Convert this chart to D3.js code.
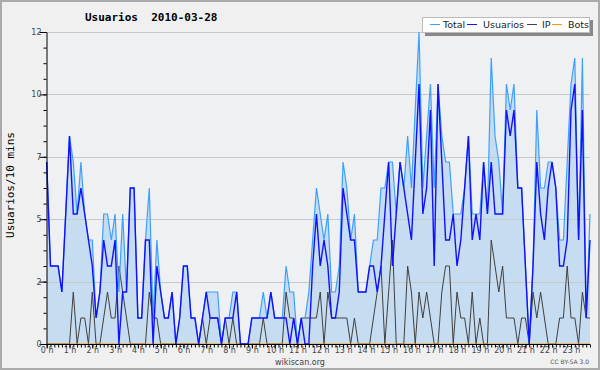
<!DOCTYPE html>
<html lang="es">
<head>
<meta charset="UTF-8">
<script src="https://cdnjs.cloudflare.com/ajax/libs/d3/7.8.5/d3.min.js"></script>
<title>Usuarios 2010-03-28</title>
<style>
    body { margin: 0; background: #f0f0f0; }
    svg { display: block; }
    .tick text { font-family: "DejaVu Sans", sans-serif; font-size: 8px; fill: #444; }
</style>
</head>
<body>
<svg width="600" height="370"></svg>
<script>
    // valores cada 10 minutos (144 puntos = 24 h)
    var total = [7, 3, 3, 3, 2, 5, 8, 7, 5, 7, 5, 4, 4, 1, 2, 5, 5, 4, 5, 2, 5, 2, 6, 6,
        1, 1, 4, 6, 1, 4, 2, 1, 1, 2, 0, 1, 3, 3, 1, 1, 0, 1, 2, 2, 2, 2, 0, 1,
        1, 2, 2, 0, 0, 0, 1, 1, 1, 2, 1, 2, 1, 1, 1, 3, 2, 2, 0, 1, 1, 2, 4, 6,
        5, 4, 5, 2, 2, 3, 7, 6, 4, 5, 2, 2, 2, 3, 4, 4, 6, 6, 7, 7, 5, 7, 6, 8,
        6, 9, 12, 6, 8, 10, 6, 10, 8, 7, 7, 5, 5, 5, 6, 8, 5, 5, 5, 7, 5, 11, 8, 7,
        5, 10, 9, 10, 6, 6, 3, 0, 3, 9, 6, 6, 7, 7, 6, 4, 4, 7, 10, 11, 4, 11, 1, 5];
    var usuarios = [7, 3, 3, 3, 2, 5, 8, 5, 5, 6, 5, 4, 3, 1, 2, 4, 3, 3, 4, 0, 2, 2, 6, 6,
        1, 1, 4, 4, 0, 3, 2, 1, 1, 2, 0, 1, 3, 3, 1, 1, 0, 1, 2, 1, 1, 1, 0, 1,
        1, 1, 2, 0, 0, 0, 1, 1, 1, 1, 1, 2, 1, 1, 1, 1, 0, 1, 0, 1, 0, 0, 3, 5,
        3, 4, 3, 1, 1, 2, 6, 5, 4, 4, 2, 2, 2, 3, 3, 2, 3, 5, 7, 3, 5, 7, 6, 5,
        4, 7, 10, 5, 6, 9, 3, 10, 7, 4, 4, 5, 3, 4, 6, 8, 4, 5, 4, 7, 5, 7, 5, 5,
        5, 9, 8, 9, 6, 6, 3, 0, 3, 7, 5, 4, 6, 7, 6, 3, 3, 4, 9, 10, 4, 9, 1, 4];
    var ip = [0, 0, 0, 0, 0, 0, 0, 2, 0, 1, 1, 0, 2, 0, 0, 1, 2, 1, 1, 3, 2, 1, 0, 0,
        0, 0, 0, 2, 1, 1, 0, 0, 0, 0, 0, 0, 0, 0, 0, 0, 0, 1, 0, 1, 1, 1, 0, 1,
        0, 1, 0, 0, 0, 0, 0, 0, 0, 1, 0, 0, 0, 0, 0, 2, 1, 1, 0, 1, 1, 1, 1, 1,
        2, 0, 2, 1, 1, 1, 1, 1, 0, 1, 0, 0, 0, 0, 1, 2, 3, 0, 2, 4, 0, 0, 0, 3,
        2, 0, 2, 1, 2, 1, 0, 0, 2, 3, 3, 0, 2, 1, 1, 0, 2, 0, 1, 0, 0, 4, 3, 2,
        3, 1, 1, 1, 0, 1, 1, 0, 2, 1, 2, 1, 0, 0, 0, 1, 1, 3, 1, 1, 0, 2, 1, 1];
    var bots = total.map(function () { return 0; });

    var hourLabels = ["0 h", "1 h", "2 h", "3 h", "4 h", "5 h", "6 h", "7 h", "8 h", "9 h", "10 h", "11 h",
        "12 h", "13 h", "14 h", "15 h", "16 h", "17 h", "18 h", "19 h", "20 h", "21 h", "22 h", "23 h"];
    var yTicks = [0, 2.4, 4.8, 7.2, 9.6, 12];
    var yTickLabels = ["0", "2", "5", "7", "10", "12"];

    var legendNames = ["Total", "Usuarios", "IP", "Bots"];
    var legendColors = ["#3da0ff", "#1010ff", "#404040", "#ff9900"];

    var svg = d3.select("svg");

    svg.append("rect").attr("x", 1).attr("y", 1).attr("width", 598).attr("height", 368)
        .attr("fill", "#f0f0f0").attr("stroke", "#aaaaaa").attr("stroke-width", 2);

    var x = d3.scaleLinear().domain([0, total.length - 1]).range([46.7, 590]);
    var y = d3.scaleLinear().domain([0, 12]).range([344, 32]);

    svg.append("rect").attr("x", 46).attr("y", 32).attr("width", 544).attr("height", 312)
        .attr("fill", "#eef0f2");

    // area Total
    svg.append("path")
        .datum(total)
        .attr("fill", "#c6dcf0")
        .attr("d", d3.area().x((d, i) => x(i)).y0(y(0)).y1(d => y(d)));

    // grid
    svg.selectAll("line.grid")
        .data(yTicks.slice(1))
        .enter()
        .append("line")
        .attr("class", "grid")
        .attr("x1", 46).attr("x2", 590)
        .attr("y1", d => Math.round(y(d)) + 0.5).attr("y2", d => Math.round(y(d)) + 0.5)
        .attr("stroke", "#c8c8c8");

    var line = d3.line().x((d, i) => x(i)).y(d => y(d));
    var series = [total, usuarios, ip, bots];
    var widths = [1.2, 1.4, 1, 1];
    [2, 3, 0, 1].forEach(function (k) {
        svg.append("path")
            .datum(series[k])
            .attr("fill", "none")
            .attr("stroke", legendColors[k])
            .attr("stroke-width", widths[k])
            .attr("d", line);
    });

    // eje y
    var yAxis = svg.append("g").attr("transform", "translate(46.5,0)")
        .call(d3.axisLeft(y).tickValues(yTicks).tickSize(7).tickSizeOuter(0)
            .tickFormat((d, i) => yTickLabels[i]));
    yAxis.selectAll(".tick text").attr("x", -5);
    svg.append("g").attr("transform", "translate(46.5,0)")
        .call(d3.axisLeft(y).tickValues(d3.range(0, 12.01, 0.6)).tickSize(3).tickFormat(""))
        .select(".domain").remove();

    // eje x
    var xAxis = svg.append("g").attr("transform", "translate(0,344.5)")
        .call(d3.axisBottom(x).tickValues(d3.range(0, 144, 6)).tickSize(4).tickSizeOuter(0)
            .tickFormat((d, i) => hourLabels[i]));
    xAxis.selectAll(".tick text").attr("y", 3).attr("dy", "0.71em");
    xAxis.select(".domain").attr("d", "M46,0H590");
    svg.append("g").attr("transform", "translate(0,344.5)")
        .call(d3.axisBottom(x).tickValues(d3.range(0, 144, 1)).tickSize(3).tickFormat(""))
        .select(".domain").remove();

    svg.selectAll(".tick line, .domain").attr("stroke", "#000");

    // titulos
    svg.append("text").attr("x", 85).attr("y", 21)
        .style("font-family", "'DejaVu Sans Mono', monospace").style("font-weight", "bold").style("font-size", "11px")
        .attr("xml:space", "preserve")
        .text("Usuarios  2010-03-28");

    svg.append("text")
        .attr("transform", "translate(14,185) rotate(-90)")
        .attr("text-anchor", "middle")
        .style("font-family", "'DejaVu Sans Mono', monospace").style("font-size", "11px")
        .text("Usuarios/10 mins");

    svg.append("text").attr("x", 300).attr("y", 365).attr("text-anchor", "middle")
        .style("font-family", "'DejaVu Sans', sans-serif").style("font-size", "8px").attr("fill", "#444")
        .text("wikiscan.org");

    svg.append("text").attr("x", 589).attr("y", 364).attr("text-anchor", "end")
        .style("font-family", "'DejaVu Sans', sans-serif").style("font-size", "6px").attr("fill", "#555")
        .text("CC BY-SA 3.0");

    // leyenda
    svg.append("rect").attr("x", 425).attr("y", 20).attr("width", 168).attr("height", 16).attr("fill", "#888");
    svg.append("rect").attr("x", 422.5).attr("y", 17.5).attr("width", 167).attr("height", 15)
        .attr("fill", "#fff").attr("stroke", "#bbb");
    var legendX = [430, 467, 527, 552];
    var legendTextX = [443, 483, 542, 568];
    var leg = svg.selectAll("g.leg").data(legendNames).enter().append("g").attr("class", "leg");
    leg.append("line")
        .attr("x1", (d, i) => legendX[i]).attr("x2", (d, i) => legendX[i] + 10)
        .attr("y1", 24.5).attr("y2", 24.5)
        .attr("stroke", (d, i) => legendColors[i]);
    leg.append("text")
        .attr("x", (d, i) => legendTextX[i]).attr("y", 28)
        .style("font-family", "'DejaVu Sans', sans-serif").style("font-size", "9.5px").attr("fill", "#222")
        .text(d => d);
</script>
</body>
</html>
